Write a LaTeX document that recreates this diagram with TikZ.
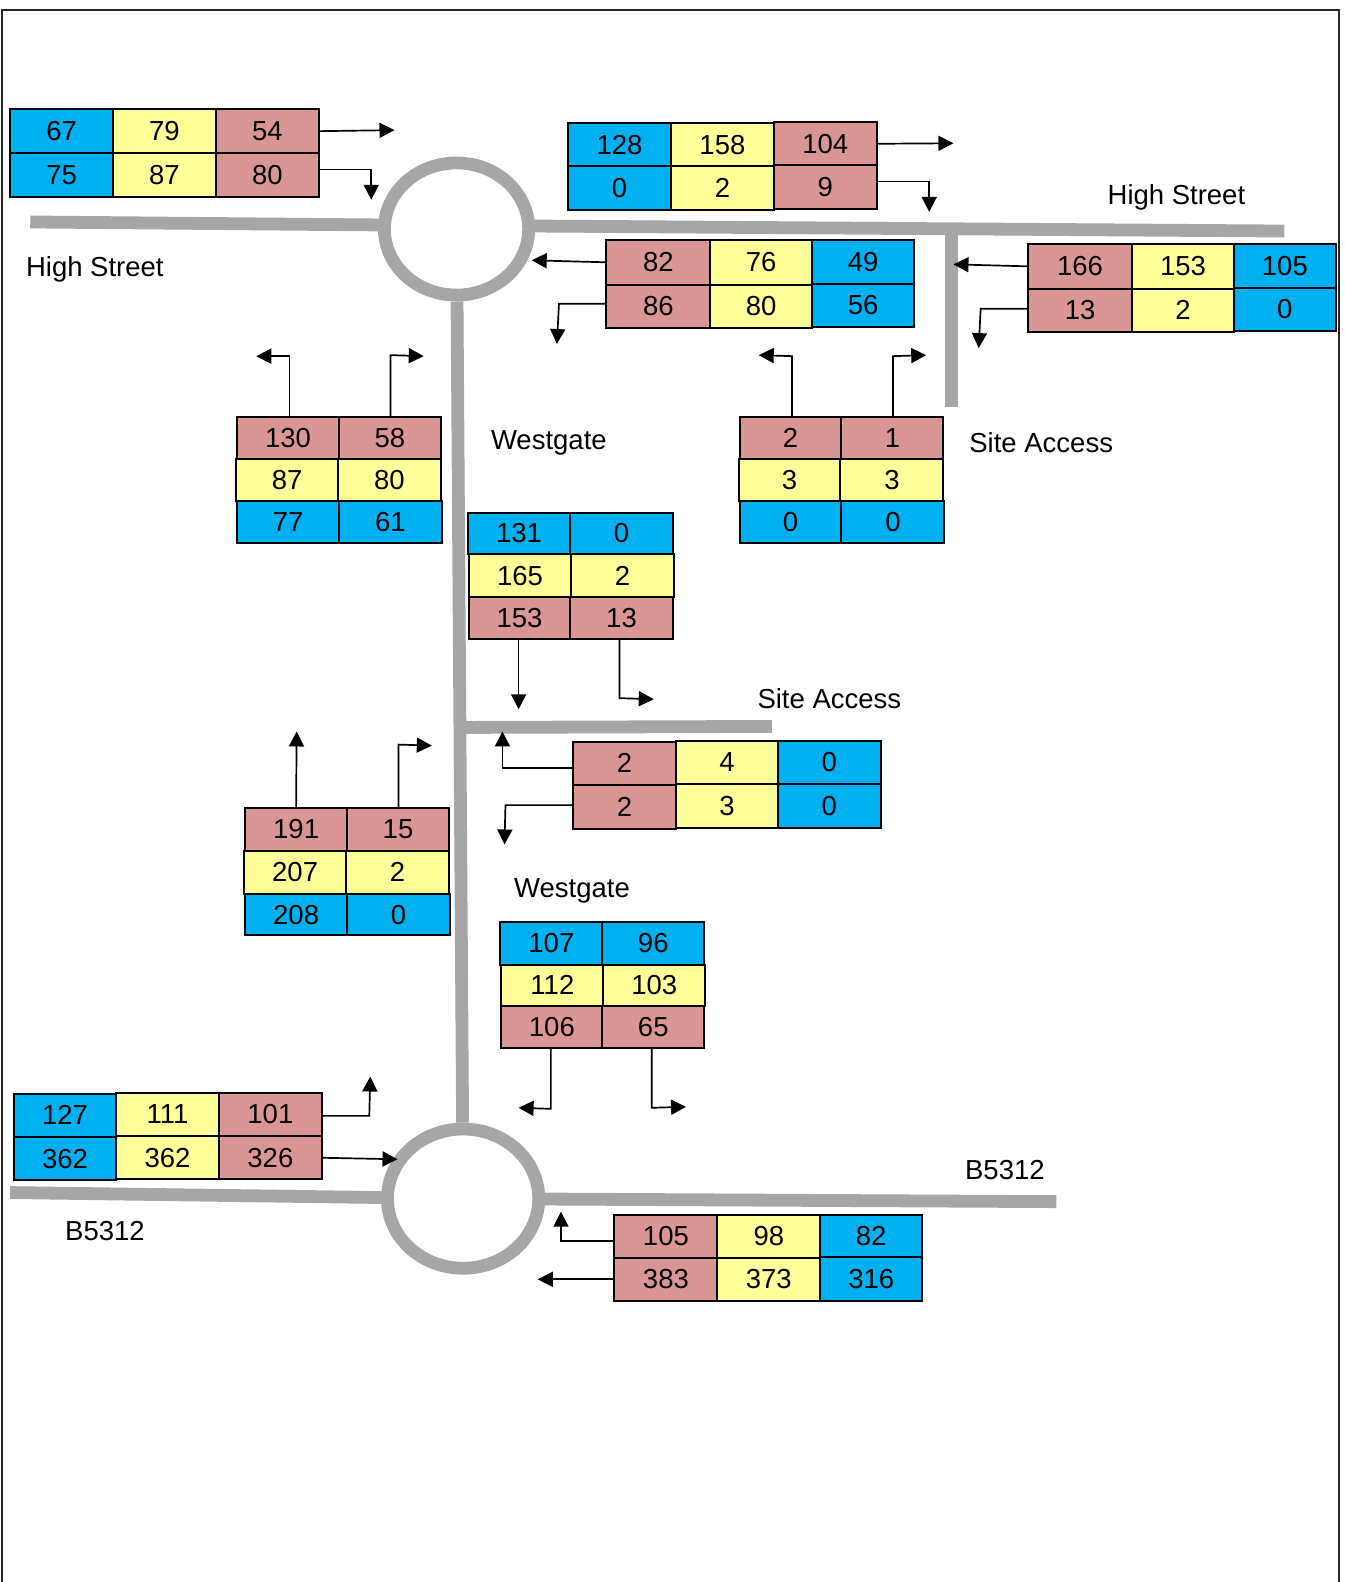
\documentclass[tikz,border=0pt]{standalone}
\usepackage{fontspec}
\setmainfont{Liberation Sans}
\usetikzlibrary{arrows.meta,shapes.geometric}
\definecolor{cblue}{HTML}{00B0F0}
\definecolor{cyel}{HTML}{FFFF99}
\definecolor{cred}{HTML}{D99694}
\definecolor{croad}{HTML}{A6A6A6}
\newcommand\txtfont{\fontsize{13.75}{16}\selectfont}
\tikzset{
  cellbox/.style={draw=black,line width=1pt,inner sep=0pt,outer sep=0pt,font=\txtfont},
  road/.style={draw=croad,line width=6.4pt,line cap=butt},
  ring/.style={ellipse,draw=croad,line width=6.4pt,fill=white,inner sep=0pt},
  conn/.style={draw=black,line width=0.85pt,-{Triangle[length=7.5pt,width=7.5pt]}},
  lab/.style={font=\txtfont,inner sep=0pt},
}
\newcommand\cbx[7]{\node[cellbox,fill=#6,minimum width={(#4-#2)*0.5045pt},minimum height={(#5-#3)*0.5045pt}] (#1) at ({(#2+#4)/2},{(#3+#5)/2}) {\raisebox{-0.4pt}{#7}};}
\begin{document}
\begin{tikzpicture}[x=0.5045pt,y=-0.5045pt]
\useasboundingbox (0,0) rectangle (1333,1568);
\draw[black!85,line width=0.8pt] (2,1568) -- (2,10) -- (1327,10) -- (1327,1568);
% road ends
\coordinate (hsL) at (30,220);
\coordinate (hsLe) at (380,223);
\coordinate (hsRs) at (526,224);
\coordinate (hsR) at (1273,229);
\coordinate (saTop) at (943,229);
\coordinate (saEnd) at (943,403);
\coordinate (sbStart) at (458,721);
\coordinate (sbEnd) at (765,720);
\coordinate (bL) at (10,1182);
\coordinate (bR) at (1047,1191);
\draw[road] (hsL) -- (hsLe);
\draw[road] (hsRs) -- (hsR);
\draw[road] (saTop) -- (saEnd);
\node[ring,minimum width=143pt*0.5045,minimum height=131pt*0.5045] (top) at (452.5,227) {};
\node[ring,minimum width=150pt*0.5045,minimum height=138pt*0.5045] (bot) at (459,1188) {};
\draw[road] (top) -- (bot);
\draw[road] (sbStart) -- (sbEnd);
\draw[road] (bL) -- (bot);
\draw[road] (bot) -- (bR);
% table 1
\cbx{a11}{10}{108}{112}{152}{cblue}{67}
\cbx{a12}{112}{108}{214}{152}{cyel}{79}
\cbx{a13}{214}{108}{316}{152}{cred}{54}
\cbx{a21}{10}{152}{112}{195}{cblue}{75}
\cbx{a22}{112}{152}{214}{195}{cyel}{87}
\cbx{a23}{214}{152}{316}{195}{cred}{80}
% table 2
\cbx{b11}{563}{122}{665}{165}{cblue}{128}
\cbx{b12}{665}{122}{767}{165}{cyel}{158}
\cbx{b13}{767}{121}{869}{164}{cred}{104}
\cbx{b21}{563}{165}{665}{208}{cblue}{0}
\cbx{b22}{665}{165}{767}{208}{cyel}{2}
\cbx{b23}{767}{164}{869}{207}{cred}{9}
% table 3
\cbx{c11}{601}{238}{704}{282}{cred}{82}
\cbx{c12}{704}{238}{805}{282}{cyel}{76}
\cbx{c13}{805}{238}{906}{281}{cblue}{49}
\cbx{c21}{601}{282}{704}{325}{cred}{86}
\cbx{c22}{704}{282}{805}{325}{cyel}{80}
\cbx{c23}{805}{281}{906}{324}{cblue}{56}
% table 4
\cbx{d11}{1019}{242}{1122}{286}{cred}{166}
\cbx{d12}{1122}{242}{1223}{286}{cyel}{153}
\cbx{d13}{1223}{242}{1324}{285}{cblue}{105}
\cbx{d21}{1019}{286}{1122}{329}{cred}{13}
\cbx{d22}{1122}{286}{1223}{329}{cyel}{2}
\cbx{d23}{1223}{285}{1324}{328}{cblue}{0}
% table 5
\cbx{e11}{235}{413}{336}{455}{cred}{130}
\cbx{e12}{336}{413}{437}{455}{cred}{58}
\cbx{e21}{234}{455}{335}{497}{cyel}{87}
\cbx{e22}{335}{455}{437}{497}{cyel}{80}
\cbx{e31}{235}{497}{336}{538}{cblue}{77}
\cbx{e32}{336}{497}{438}{538}{cblue}{61}
% table 6
\cbx{f11}{733}{413}{834}{455}{cred}{2}
\cbx{f12}{834}{413}{935}{455}{cred}{1}
\cbx{f21}{732}{455}{833}{497}{cyel}{3}
\cbx{f22}{833}{455}{935}{497}{cyel}{3}
\cbx{f31}{733}{497}{834}{538}{cblue}{0}
\cbx{f32}{834}{497}{936}{538}{cblue}{0}
% table 7
\cbx{g11}{464}{508}{565}{549}{cblue}{131}
\cbx{g12}{565}{508}{667}{549}{cblue}{0}
\cbx{g21}{465}{549}{566}{592}{cyel}{165}
\cbx{g22}{566}{549}{668}{592}{cyel}{2}
\cbx{g31}{465}{592}{565}{633}{cred}{153}
\cbx{g32}{565}{592}{667}{633}{cred}{13}
% table 8
\cbx{h11}{568}{735}{670}{778}{cred}{2}
\cbx{h12}{670}{734}{771}{777}{cyel}{4}
\cbx{h13}{771}{734}{873}{777}{cblue}{0}
\cbx{h21}{568}{778}{670}{822}{cred}{2}
\cbx{h22}{670}{777}{771}{821}{cyel}{3}
\cbx{h23}{771}{777}{873}{821}{cblue}{0}
% table 9
\cbx{i11}{243}{801}{344}{843}{cred}{191}
\cbx{i12}{344}{801}{445}{843}{cred}{15}
\cbx{i21}{242}{843}{343}{886}{cyel}{207}
\cbx{i22}{343}{843}{445}{886}{cyel}{2}
\cbx{i31}{243}{886}{344}{927}{cblue}{208}
\cbx{i32}{344}{886}{446}{927}{cblue}{0}
% table 10
\cbx{j11}{496}{914}{597}{956}{cblue}{107}
\cbx{j12}{597}{914}{698}{956}{cblue}{96}
\cbx{j21}{497}{956}{598}{997}{cyel}{112}
\cbx{j22}{598}{956}{699}{997}{cyel}{103}
\cbx{j31}{497}{997}{597}{1039}{cred}{106}
\cbx{j32}{597}{997}{698}{1039}{cred}{65}
% table 11
\cbx{k11}{14}{1084}{115}{1127}{cblue}{127}
\cbx{k12}{115}{1083}{217}{1126}{cyel}{111}
\cbx{k13}{217}{1083}{319}{1126}{cred}{101}
\cbx{k21}{14}{1127}{115}{1170}{cblue}{362}
\cbx{k22}{115}{1126}{217}{1169}{cyel}{362}
\cbx{k23}{217}{1126}{319}{1169}{cred}{326}
% table 12
\cbx{m11}{609}{1204}{711}{1247}{cred}{105}
\cbx{m12}{711}{1204}{813}{1247}{cyel}{98}
\cbx{m13}{813}{1204}{914}{1246}{cblue}{82}
\cbx{m21}{609}{1247}{711}{1289}{cred}{383}
\cbx{m22}{711}{1247}{813}{1289}{cyel}{373}
\cbx{m23}{813}{1246}{914}{1289}{cblue}{316}
% connector points
\coordinate (p1) at (391,129);
\coordinate (q2) at (368,168); \coordinate (p2) at (368,198);
\coordinate (p3) at (945,142);
\coordinate (q4) at (921,180); \coordinate (p4) at (921,210);
\coordinate (p5) at (527,258);
\coordinate (q6) at (554,301); \coordinate (p6) at (552,341);
\coordinate (p7) at (945,262);
\coordinate (q8) at (972,306); \coordinate (p8) at (970,345);
\coordinate (q9) at (287,353); \coordinate (p9) at (254,353);
\coordinate (q10) at (387,352); \coordinate (p10) at (420,353);
\coordinate (q11) at (785,353); \coordinate (p11) at (752,352);
\coordinate (q12) at (885,353); \coordinate (p12) at (918,352);
\coordinate (p13) at (514,703);
\coordinate (q14) at (614,692); \coordinate (p14) at (648,693);
\coordinate (q15) at (498,761); \coordinate (p15) at (498,725);
\coordinate (q16) at (501,798); \coordinate (p16) at (500,837);
\coordinate (p17) at (294,725);
\coordinate (q18) at (395,738); \coordinate (p18) at (428,739);
\coordinate (q19) at (546,1099); \coordinate (p19) at (514,1098);
\coordinate (q20) at (646,1098); \coordinate (p20) at (680,1097);
\coordinate (q21) at (366,1106); \coordinate (p21) at (367,1067);
\coordinate (p22) at (394,1149);
\coordinate (q23) at (556,1230); \coordinate (p23) at (556,1201);
\coordinate (p24) at (533,1268);
% connectors
\draw[conn] (a13.east) -- (p1);
\draw[conn] (a23.east |- q2) -- (q2) -- (p2);
\draw[conn] (b13.east) -- (p3);
\draw[conn] (b23.east |- q4) -- (q4) -- (p4);
\draw[conn] (c11.west) -- (p5);
\draw[conn] (c21.west |- q6) -- (q6) -- (p6);
\draw[conn] (d11.west) -- (p7);
\draw[conn] (d21.west |- q8) -- (q8) -- (p8);
\draw[conn] (e11.north -| q9) -- (q9) -- (p9);
\draw[conn] (e12.north -| q10) -- (q10) -- (p10);
\draw[conn] (f11.north -| q11) -- (q11) -- (p11);
\draw[conn] (f12.north -| q12) -- (q12) -- (p12);
\draw[conn] (g31.south -| p13) -- (p13);
\draw[conn] (g32.south -| q14) -- (q14) -- (p14);
\draw[conn] (h11.west |- q15) -- (q15) -- (p15);
\draw[conn] (h21.west |- q16) -- (q16) -- (p16);
\draw[conn] (i11.north) -- (p17);
\draw[conn] (i12.north -| q18) -- (q18) -- (p18);
\draw[conn] (j31.south -| q19) -- (q19) -- (p19);
\draw[conn] (j32.south -| q20) -- (q20) -- (p20);
\draw[conn] (k13.east |- q21) -- (q21) -- (p21);
\draw[conn] (k23.east) -- (p22);
\draw[conn] (m11.west |- q23) -- (q23) -- (p23);
\draw[conn] (m21.west) -- (p24);
% labels
\node[lab] (l1) at (94,267) {High Street};
\node[lab] (l2) at (1166,196) {High Street};
\node[lab] (l3) at (544,439) {Westgate};
\node[lab] (l4) at (567,883) {Westgate};
\node[lab] (l5) at (1032,439) {Site Access};
\node[lab] (l6) at (822,692) {Site Access};
\node[lab] (l7) at (104,1220) {B5312};
\node[lab] (l8) at (996,1160) {B5312};
\end{tikzpicture}
\end{document}
